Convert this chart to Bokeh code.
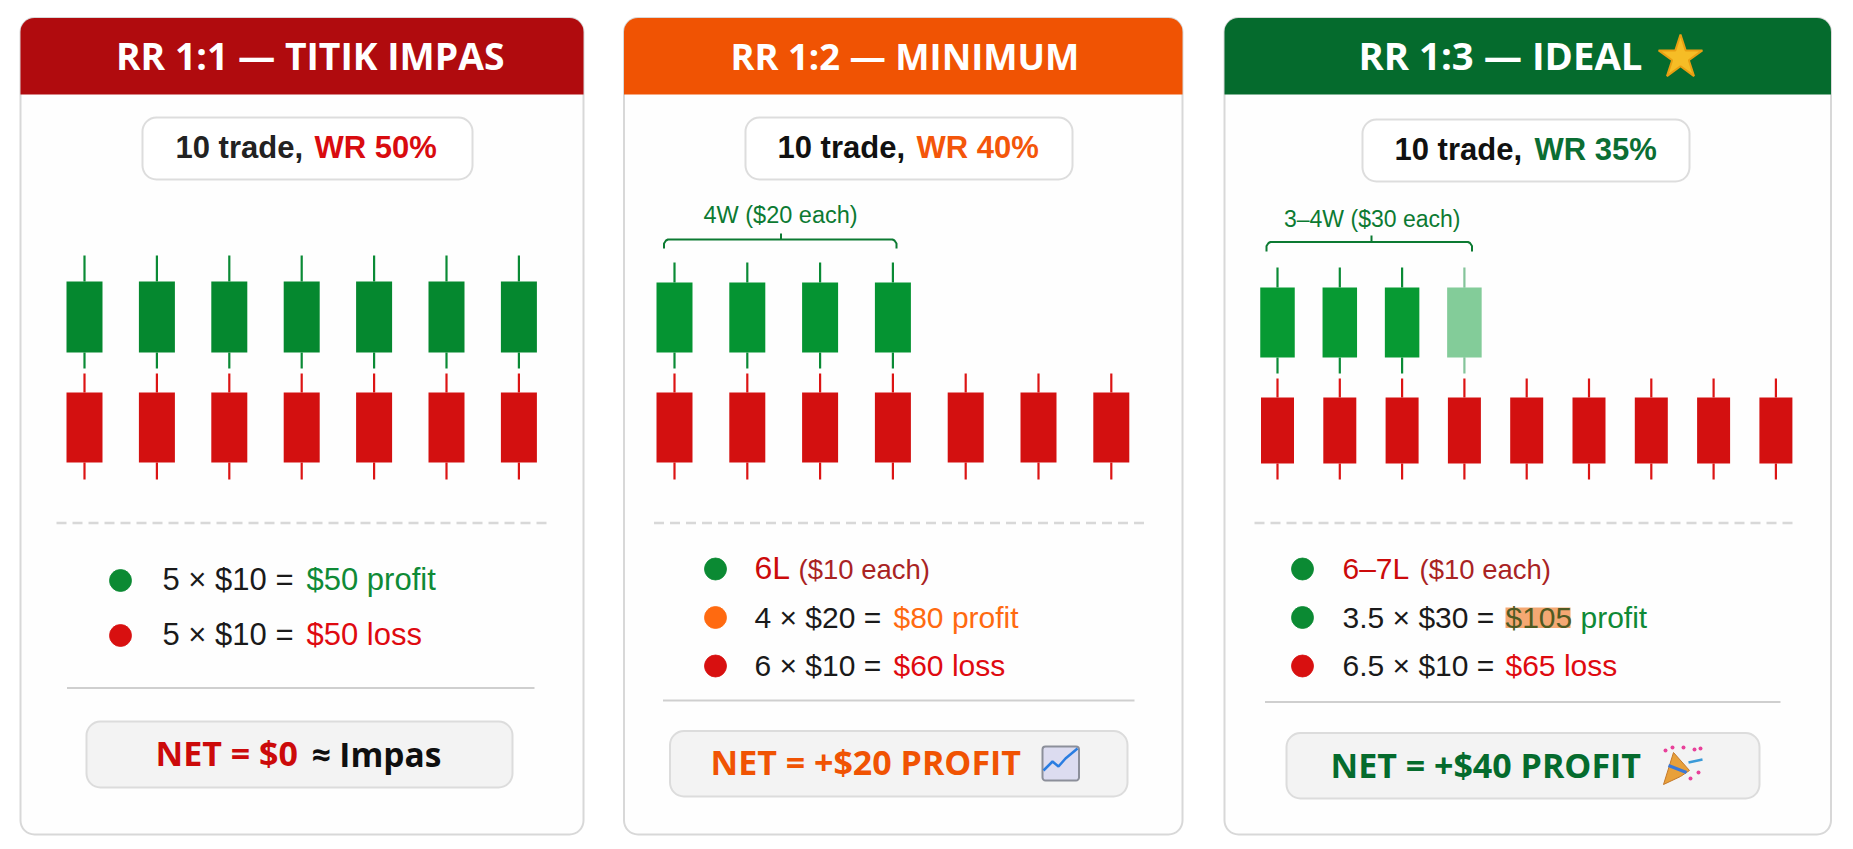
from bokeh.core.properties import value
from bokeh.embed import file_html
from bokeh.models import Range1d
from bokeh.plotting import figure
from bokeh.resources import INLINE

# --- Data ---
titles = ["RR 1:1 — TITIK IMPAS", "RR 1:2 — MINIMUM", "RR 1:3 — IDEAL"]
win_rates = ["WR 50%", "WR 40%", "WR 35%"]
trade_label = "10 trade,"
brace_labels = ["4W ($20 each)", "3–4W ($30 each)"]
net_labels = ["NET = $0", "NET = +$20 PROFIT", "NET = +$40 PROFIT"]
impas_label = "≈ Impas"

# candles, arbitrary price units
win1_low = [211, 211, 211, 211, 211, 211, 211]
win1_open = [227, 227, 227, 227, 227, 227, 227]
win1_close = [298, 298, 298, 298, 298, 298, 298]
win1_high = [324, 324, 324, 324, 324, 324, 324]
loss1_low = [100, 100, 100, 100, 100, 100, 100]
loss1_close = [117, 117, 117, 117, 117, 117, 117]
loss1_open = [187, 187, 187, 187, 187, 187, 187]
loss1_high = [206, 206, 206, 206, 206, 206, 206]

win2_low = [211, 211, 211, 211]
win2_open = [227, 227, 227, 227]
win2_close = [297, 297, 297, 297]
win2_high = [317, 317, 317, 317]
loss2_low = [100, 100, 100, 100, 100, 100, 100]
loss2_close = [117, 117, 117, 117, 117, 117, 117]
loss2_open = [187, 187, 187, 187, 187, 187, 187]
loss2_high = [206, 206, 206, 206, 206, 206, 206]

win3_low = [206, 206, 206, 206]
win3_open = [222, 222, 222, 222]
win3_close = [292, 292, 292, 292]
win3_high = [312, 312, 312, 312]
loss3_low = [100, 100, 100, 100, 100, 100, 100, 100, 100]
loss3_close = [116, 116, 116, 116, 116, 116, 116, 116, 116]
loss3_open = [182, 182, 182, 182, 182, 182, 182, 182, 182]
loss3_high = [201, 201, 201, 201, 201, 201, 201, 201, 201]
win3_alpha = [1, 1, 1, 0.5]

# --- Colours and fonts ---
BLACK = "#1a1a1a"
GREEN = "#0f8a36"
RED = "#df0a10"
DARK_RED = "#cc0a0a"
BROWN_RED = "#a92323"
ORANGE = "#ff6a10"
NET_ORANGE = "#f05303"
NET_GREEN = "#056b2d"
HEAD_COLORS = ["#b00b0e", "#f05303", "#056b2d"]
WR_COLORS = ["#d90b0f", "#f4560a", "#0b6e33"]
WIN_COLORS = ["#05882f", "#059432", "#079a33"]
CANDLE_RED = "#d31010"
WICK_RED = "#dc1414"
ARIAL = "Liberation Sans"
HEAD = "Open Sans"

W, H = 1837, 836
p = figure(
    width=W,
    height=H,
    x_range=Range1d(0, W),
    y_range=Range1d(H, 0),
    x_axis_location=None,
    y_axis_location=None,
    toolbar_location=None,
    output_backend="svg",
    min_border=0,
)
p.grid.visible = False
p.outline_line_color = None
p.background_fill_color = "white"
p.border_fill_color = "white"

# price axis: one unit is one pixel, price 100 sits at y=479
p.extra_y_ranges = {"price": Range1d(579 - H, 579)}


def run(x, y, s, color, size, font=ARIAL, style="normal"):
    # bokeh puts the alphabetic baseline lower than asked, roughly in step with the font size
    shift = (0.40 if font == HEAD else 0.34) * size
    p.text(
        x=[x], y=[y - shift], text=[s], text_color=color, text_font=value(font),
        text_font_size=f"{size}px", text_font_style=style,
        text_baseline="alphabetic", text_align="left",
    )


def box(left, right, top, bottom, fill, line, radius=14, width=2):
    p.quad(
        left=[left], right=[right], top=[top], bottom=[bottom], fill_color=fill,
        line_color=line, line_width=width, border_radius=radius,
    )


def candles(name, x0, step, low, body_low, body_high, high, body_width, fill, wick,
            wick_width, alpha=None):
    # trade number -> pixel position through its own range
    if name not in p.extra_x_ranges:
        p.extra_x_ranges[name] = Range1d((0 - x0) / step, (W - x0) / step)
    trades = list(range(len(low)))
    alphas = alpha if alpha else [1] * len(low)
    p.segment(
        trades, low, trades, body_low, line_color=wick, line_width=wick_width, line_alpha=alphas,
        x_range_name=name, y_range_name="price",
    )
    p.segment(
        trades, body_high, trades, high, line_color=wick, line_width=wick_width, line_alpha=alphas,
        x_range_name=name, y_range_name="price",
    )
    p.vbar(
        x=trades, bottom=body_low, top=body_high, width=body_width / step, fill_color=fill,
        line_color=None, fill_alpha=alphas, x_range_name=name, y_range_name="price",
    )


def brace(left, right, top, leg, mid, tick):
    p.line(
        [left, left, left + 2, left + 4, right - 4, right - 2, right, right],
        [leg, top + 4, top + 1, top, top, top + 1, top + 4, leg],
        line_color="#0c7a32", line_width=2,
    )
    p.line([mid, mid], [tick, top], line_color="#0c7a32", line_width=2)


def dot(x, y, color):
    p.scatter([x], [y], size=22, marker="circle", fill_color=color, line_color=color, line_alpha=0.8)


# --- Card frames ---
card_left = [20, 623.5, 1224]
card_right = [583, 1182, 1830.5]
for i in range(3):
    box(card_left[i], card_right[i], 17.5, 834, "#fefefe", "#d8d8d8")
    box(card_left[i], card_right[i], 17.5, 94, HEAD_COLORS[i], None,
        radius=(14, 14, 0, 0), width=0)

# --- Titles ---
run(115.5, 70, titles[0], "white", 37.3, HEAD, "bold")
run(730, 70, titles[1], "white", 36.4, HEAD, "bold")
run(1358, 70, titles[2], "white", 38.3, HEAD, "bold")
p.scatter([1680], [57], marker="star", size=46, fill_color="#f6bd26", line_color="#e99f12", line_width=2)

# --- Badges ---
box(142, 472, 117, 179, "white", "#dddddd")
box(745, 1072, 117, 179, "white", "#dddddd")
box(1362, 1689, 119, 181, "white", "#dddddd")
run(175, 158, trade_label, "#222222", 31, ARIAL, "bold")
run(314, 158, win_rates[0], WR_COLORS[0], 31, ARIAL, "bold")
run(777, 158, trade_label, "#111111", 31, ARIAL, "bold")
run(916, 158, win_rates[1], WR_COLORS[1], 31, ARIAL, "bold")
run(1394, 160, trade_label, "#111111", 31, ARIAL, "bold")
run(1534, 160, win_rates[2], WR_COLORS[2], 31, ARIAL, "bold")

# --- Brackets ---
brace(663.5, 896, 239, 248, 780.5, 233)
run(703, 222.5, brace_labels[0], "#0c7a32", 23.5)
brace(1266, 1471.5, 241.5, 251, 1371, 235)
run(1283.5, 226, brace_labels[1], "#0c7a32", 23)

# --- Candles ---
candles("c1", 84, 72.4, win1_low, win1_open, win1_close, win1_high, 36, WIN_COLORS[0], "#0a8a35", 2.2)
candles("c1", 84, 72.4, loss1_low, loss1_close, loss1_open, loss1_high, 36, CANDLE_RED, WICK_RED, 2.2)
candles("c2", 674, 72.8, win2_low, win2_open, win2_close, win2_high, 36, WIN_COLORS[1], "#0a8a35", 2.2)
candles("c2", 674, 72.8, loss2_low, loss2_close, loss2_open, loss2_high, 36, CANDLE_RED, WICK_RED, 2.2)
candles("c3", 1277, 62.3, win3_low, win3_open, win3_close, win3_high, 34.5, WIN_COLORS[2], "#0a8a35", 2.2, win3_alpha)
candles("c3", 1277, 62.3, loss3_low, loss3_close, loss3_open, loss3_high, 33, CANDLE_RED, WICK_RED, 2.2)

# --- Separators ---
p.line([56, 548.5], [522.5, 522.5], line_color="#d8d8d8", line_width=2.5, line_dash="10 6")
p.line([653.5, 1144], [522.5, 522.5], line_color="#d8d8d8", line_width=2.5, line_dash="10 6")
p.line([1254, 1798], [522.5, 522.5], line_color="#d8d8d8", line_width=2.5, line_dash="10 6")
p.line([66.5, 534], [687.5, 687.5], line_color="#cfcfcf", line_width=2)
p.line([662.5, 1134], [700, 700], line_color="#cfcfcf", line_width=2)
p.line([1264.5, 1780], [701.5, 701.5], line_color="#cfcfcf", line_width=2)

# --- Rows, card 1 ---
dot(120, 580, "#0b8a33")
dot(120, 635, "#d81010")
run(162, 590, "5 × $10 =", BLACK, 31)
run(306, 590, "$50 profit", GREEN, 31)
run(162, 645, "5 × $10 =", BLACK, 31)
run(306, 645, "$50 loss", RED, 31)

# --- Rows, card 2 ---
dot(715, 568.5, "#0b8a33")
dot(715, 617, ORANGE)
dot(715, 665.5, "#d81010")
run(754, 578.5, "6L", DARK_RED, 32)
run(798, 578.5, "($10 each)", BROWN_RED, 27.5)
run(754, 627, "4 × $20 =", BLACK, 30)
run(893, 627, "$80 profit", ORANGE, 30)
run(754, 675.5, "6 × $10 =", BLACK, 30)
run(893, 675.5, "$60 loss", RED, 30)

# --- Rows, card 3 ---
dot(1302, 568.5, "#0b8a33")
dot(1302, 617, "#0b8a33")
dot(1302, 665.5, "#d81010")
run(1342, 578.5, "6–7L", DARK_RED, 30)
run(1419, 578.5, "($10 each)", BROWN_RED, 27.5)
run(1342, 627, "3.5 × $30 =", BLACK, 30)
p.quad(left=[1505], right=[1570], top=[607], bottom=[627.5], fill_color="#f4a873", line_color=None)
run(1505, 627, "$105", "#4f5a22", 30)
run(1580, 627, "profit", GREEN, 30)
run(1342, 675.5, "6.5 × $10 =", BLACK, 30)
run(1505, 675.5, "$65 loss", RED, 30)

# --- Net boxes ---
box(86, 512, 721, 787, "#f3f3f3", "#dcdcdc")
box(669.5, 1127, 730.5, 796, "#f3f3f3", "#dcdcdc")
box(1286, 1759, 732.5, 798, "#f3f3f3", "#dcdcdc")
run(155, 766.5, net_labels[0], "#cc0a0a", 34, HEAD, "bold")
run(311, 766.5, impas_label, "#0f0f0f", 33.5, HEAD, "bold")
run(710, 775.5, net_labels[1], NET_ORANGE, 34, HEAD, "bold")
run(1330, 778, net_labels[2], NET_GREEN, 34, HEAD, "bold")

# --- Chart icon ---
box(1042, 1078.5, 746, 780, "#dcdcf0", "#8c8f9a", radius=3)
p.line([1043, 1052, 1058, 1065, 1077], [770, 761, 766, 758, 748], line_color="#2a7de1", line_width=2.5)

# --- Party popper icon ---
p.patch([1663, 1673, 1689, 1680], [784, 752, 770, 776], fill_color="#e8a03a", line_color="#c4792a")
p.line([1668, 1686], [765, 772], line_color="#3a78d8", line_width=3)
p.scatter([1665, 1672, 1683, 1694, 1700, 1698, 1690], [750, 747, 747, 749, 748, 772, 778],
          size=4, marker="circle", fill_color="#e8409a", line_color=None)
p.line([1688, 1702], [762, 759], line_color="#3a9ad8", line_width=2.5)

open("out.html", "w").write(file_html(p, INLINE))
